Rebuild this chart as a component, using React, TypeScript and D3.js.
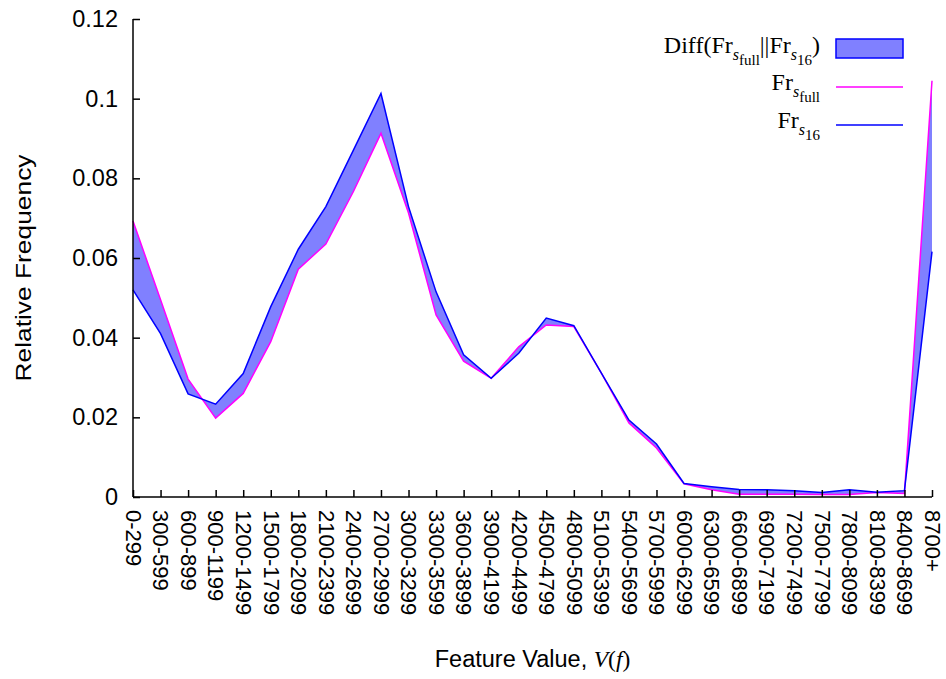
import React, { useEffect, useRef } from 'react';
import * as d3 from 'd3';

// bins of the feature value
const categories = [
  '0-299', '300-599', '600-899', '900-1199', '1200-1499', '1500-1799',
  '1800-2099', '2100-2399', '2400-2699', '2700-2999', '3000-3299', '3300-3599',
  '3600-3899', '3900-4199', '4200-4499', '4500-4799', '4800-5099', '5100-5399',
  '5400-5699', '5700-5999', '6000-6299', '6300-6599', '6600-6899', '6900-7199',
  '7200-7499', '7500-7799', '7800-8099', '8100-8399', '8400-8699', '8700+',
];

// Fr s_full (magenta)
const frFull = [
  0.0693, 0.0495, 0.0296, 0.0198, 0.0260, 0.0390, 0.0572, 0.0635, 0.0767, 0.0913,
  0.0713, 0.0457, 0.0341, 0.0298, 0.0377, 0.0432, 0.0428, 0.0311, 0.0186, 0.0123,
  0.0033, 0.0018, 0.0007, 0.0007, 0.0007, 0.0006, 0.0006, 0.0011, 0.0009, 0.1045,
];

// Fr s_16 (blue)
const fr16 = [
  0.0520, 0.0410, 0.0259, 0.0233, 0.0310, 0.0478, 0.0622, 0.0729, 0.0871, 0.1013,
  0.0729, 0.0515, 0.0357, 0.0298, 0.0361, 0.0449, 0.0430, 0.0311, 0.0193, 0.0133,
  0.0034, 0.0026, 0.0019, 0.0018, 0.0016, 0.0011, 0.0018, 0.0012, 0.0016, 0.0616,
];

const yTicks = [0, 0.02, 0.04, 0.06, 0.08, 0.1, 0.12];

const width = 946;
const height = 679;
const margin = { top: 19, right: 14, bottom: 182, left: 133 };
const sans = '"Liberation Sans", Arial, sans-serif';
const serif = '"Liberation Serif", "Times New Roman", serif';

const App = () => {
  const ref = useRef<SVGSVGElement>(null);

  useEffect(() => {
    const svg = d3.select(ref.current);
    svg.selectAll('*').remove();

    const plotW = width - margin.left - margin.right;
    const plotH = height - margin.top - margin.bottom;

    const x = d3.scalePoint<string>().domain(categories).range([0, plotW]);
    const y = d3.scaleLinear().domain([0, 0.12]).range([plotH, 0]);

    const data = categories.map((c, i) => ({ c, full: frFull[i], s16: fr16[i] }));

    const g = svg.append('g').attr('transform', `translate(${margin.left},${margin.top})`);

    // filled difference between the two curves
    const area = d3.area<any>()
      .x(d => x(d.c)!)
      .y0(d => y(d.full))
      .y1(d => y(d.s16));
    g.append('path')
      .datum(data)
      .attr('d', area)
      .attr('fill', '#8080ff')
      .attr('stroke', 'none');

    const lineFull = d3.line<any>().x(d => x(d.c)!).y(d => y(d.full));
    const line16 = d3.line<any>().x(d => x(d.c)!).y(d => y(d.s16));

    g.append('path')
      .datum(data)
      .attr('d', lineFull)
      .attr('fill', 'none')
      .attr('stroke', '#ff00ff')
      .attr('stroke-width', 1.5);

    g.append('path')
      .datum(data)
      .attr('d', line16)
      .attr('fill', 'none')
      .attr('stroke', '#0000ff')
      .attr('stroke-width', 1.5);

    // y axis
    const yAxis = g.append('g')
      .call(d3.axisRight(y).tickValues(yTicks).tickSize(7).tickFormat(d3.format('')));
    yAxis.select('.domain').attr('d', `M0,${plotH}V0`).attr('stroke', '#000').attr('stroke-width', 1.5);
    yAxis.selectAll('.tick line').attr('stroke', '#000').attr('stroke-width', 1.5);
    yAxis.selectAll('.tick text')
      .attr('x', -15)
      .attr('text-anchor', 'end')
      .attr('fill', '#000')
      .style('font-family', sans)
      .style('font-size', '23.5px');

    // x axis
    const xAxis = g.append('g')
      .attr('transform', `translate(0,${plotH})`)
      .call(d3.axisTop(x).tickSize(7));
    xAxis.select('.domain').attr('d', `M0,0H${plotW}`).attr('stroke', '#000').attr('stroke-width', 1.5);
    xAxis.selectAll('.tick line').attr('stroke', '#000').attr('stroke-width', 1.5);
    xAxis.selectAll('.tick text')
      .attr('x', 0)
      .attr('y', 0)
      .attr('dy', '0.35em')
      .attr('text-anchor', 'start')
      .attr('transform', 'translate(0,13) rotate(90)')
      .attr('fill', '#000')
      .style('font-family', sans)
      .style('font-size', '22px');

    // axis titles
    svg.append('text')
      .attr('transform', `translate(31,${margin.top + plotH / 2 + 10}) rotate(-90)`)
      .attr('text-anchor', 'middle')
      .attr('textLength', 227)
      .attr('lengthAdjust', 'spacingAndGlyphs')
      .style('font-family', sans)
      .style('font-size', '22px')
      .text('Relative Frequency');

    const xt = svg.append('text')
      .attr('x', margin.left + plotW / 2)
      .attr('y', 667)
      .attr('text-anchor', 'middle')
      .style('font-family', sans)
      .style('font-size', '23.5px');
    xt.append('tspan').text('Feature Value, ');
    xt.append('tspan').style('font-family', serif).style('font-style', 'italic').text('V');
    xt.append('tspan').style('font-family', serif).text('(');
    xt.append('tspan').style('font-family', serif).style('font-style', 'italic').text('f');
    xt.append('tspan').style('font-family', serif).text(')');

    // legend
    const lg = svg.append('g');
    const textX = 820;
    const keyX0 = 836;
    const keyX1 = 903;

    lg.append('rect')
      .attr('x', keyX0).attr('y', 39)
      .attr('width', keyX1 - keyX0).attr('height', 19)
      .attr('fill', '#8080ff')
      .attr('stroke', '#0000ff')
      .attr('stroke-width', 1.5);

    const t1 = lg.append('text')
      .attr('x', textX).attr('y', 53)
      .attr('text-anchor', 'end')
      .style('font-family', serif)
      .style('font-size', '24px');
    t1.append('tspan').text('Diff(Fr');
    t1.append('tspan').attr('dy', 7).style('font-style', 'italic').style('font-size', '16px').text('s');
    t1.append('tspan').attr('dy', 5).style('font-size', '15px').text('full');
    t1.append('tspan').attr('dy', -12).text('||Fr');
    t1.append('tspan').attr('dy', 7).style('font-style', 'italic').style('font-size', '16px').text('s');
    t1.append('tspan').attr('dy', 5).style('font-size', '15px').text('16');
    t1.append('tspan').attr('dy', -12).text(')');

    lg.append('line')
      .attr('x1', keyX0).attr('x2', keyX1).attr('y1', 87).attr('y2', 87)
      .attr('stroke', '#ff00ff').attr('stroke-width', 1.5);
    const t2 = lg.append('text')
      .attr('x', textX).attr('y', 90)
      .attr('text-anchor', 'end')
      .style('font-family', serif)
      .style('font-size', '24px');
    t2.append('tspan').text('Fr');
    t2.append('tspan').attr('dy', 7).style('font-style', 'italic').style('font-size', '16px').text('s');
    t2.append('tspan').attr('dy', 5).style('font-size', '15px').text('full');

    lg.append('line')
      .attr('x1', keyX0).attr('x2', keyX1).attr('y1', 125).attr('y2', 125)
      .attr('stroke', '#0000ff').attr('stroke-width', 1.5);
    const t3 = lg.append('text')
      .attr('x', textX).attr('y', 128)
      .attr('text-anchor', 'end')
      .style('font-family', serif)
      .style('font-size', '24px');
    t3.append('tspan').text('Fr');
    t3.append('tspan').attr('dy', 7).style('font-style', 'italic').style('font-size', '16px').text('s');
    t3.append('tspan').attr('dy', 5).style('font-size', '15px').text('16');
  }, []);

  return (
    <svg
      ref={ref}
      width={width}
      height={height}
      style={{ position: 'absolute', left: 0, top: 0, background: '#fff' }}
    />
  );
};

export default App;
